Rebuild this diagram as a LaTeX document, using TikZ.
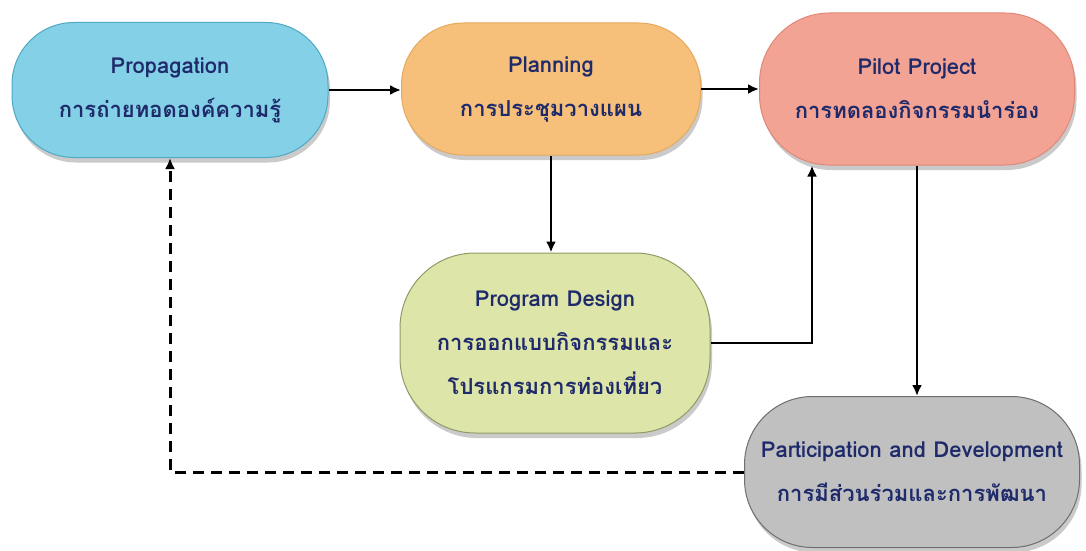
\documentclass[tikz,border=0pt]{standalone}
\usepackage{fontspec}
\setmainfont{Loma}[Script=Thai]
\usetikzlibrary{arrows.meta,shadows,calc}
\definecolor{txt}{HTML}{1E2A6A}
\definecolor{cprop}{HTML}{84D0E6}
\definecolor{cpropd}{HTML}{4FA9C4}
\definecolor{cplan}{HTML}{F6C07A}
\definecolor{cpland}{HTML}{E6A95E}
\definecolor{cpilot}{HTML}{F3A393}
\definecolor{cpilotd}{HTML}{E08878}
\definecolor{cdes}{HTML}{DEE5A9}
\definecolor{cdesd}{HTML}{8F9A66}
\definecolor{cpart}{HTML}{C0C0C0}
\definecolor{cpartd}{HTML}{6E6E6E}
\tikzset{
  stadium/.style={rectangle, rounded corners=62pt, align=center, text=txt,
    font=\bfseries\fontsize{22}{44}\selectfont, line width=1pt,
    drop shadow={shadow xshift=2pt, shadow yshift=-5pt, opacity=0.35, fill=black!60}},
  arr/.style={line width=2.8pt, -{Latex[length=11pt,width=10pt]}},
  dashedarr/.style={line width=3pt, dash pattern=on 11pt off 7pt, -{Latex[length=11pt,width=10pt]}}
}
\begin{document}
\begin{tikzpicture}[x=1pt,y=-1pt]
\useasboundingbox (0,0) rectangle (1086,551);
\node[stadium, fill=cprop, draw=cpropd, minimum width=316pt, minimum height=135pt] (prop) at (170,90)
  {Propagation\\การถ่ายทอดองค์ความรู้};
\node[stadium, fill=cplan, draw=cpland, minimum width=299pt, minimum height=132pt] (plan) at (551,89)
  {Planning\\การประชุมวางแผน};
\node[stadium, rounded corners=70pt, fill=cpilot, draw=cpilotd, minimum width=315pt, minimum height=152pt] (pilot) at (917,89)
  {Pilot Project\\การทดลองกิจกรรมนำร่อง};
\node[stadium, rounded corners=75pt, fill=cdes, draw=cdesd, minimum width=310pt, minimum height=180pt] (des) at (555,343)
  {Program Design\\การออกแบบกิจกรรมและ\\โปรแกรมการท่องเที่ยว};
\node[stadium, rounded corners=68pt, fill=cpart, draw=cpartd, minimum width=335pt, minimum height=151pt] (part) at (912,472)
  {Participation and Development\\การมีส่วนร่วมและการพัฒนา};
\coordinate (pin) at ($(pilot.south)+(-105,0)$);
\draw[arr] (prop.east) -- (prop.east -| plan.west);
\draw[arr] (plan.east) -- (plan.east -| pilot.west);
\draw[arr] (plan.south) -- (plan.south |- des.north);
\draw[arr] (des.east) -| (pin);
\draw[arr] (pilot.south) -- (pilot.south |- part.north);
\draw[dashedarr] (part.west) -| (prop.south);
\end{tikzpicture}
\end{document}
